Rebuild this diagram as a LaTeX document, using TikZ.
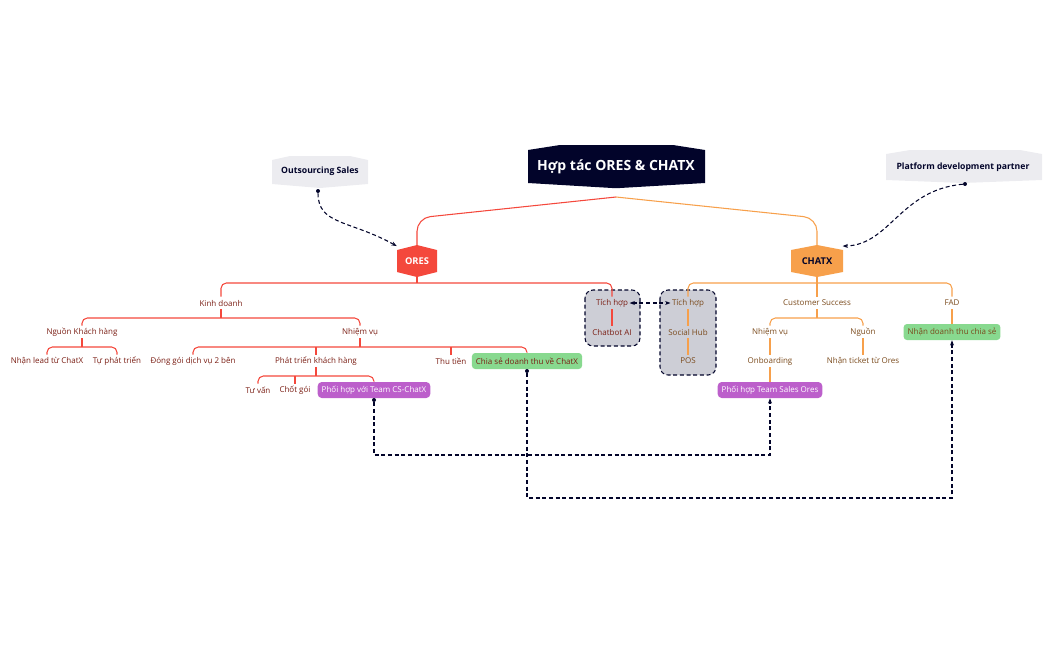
\documentclass[tikz,border=0pt]{standalone}
\usepackage{fontspec}
\setmainfont{Open Sans}
\usetikzlibrary{calc,arrows.meta}
\definecolor{navy}{HTML}{02042A}
\definecolor{oresred}{HTML}{F4483C}
\definecolor{chatorange}{HTML}{F7A04B}
\definecolor{txtred}{HTML}{7A1E14}
\definecolor{txtbrown}{HTML}{7A4A1C}
\definecolor{lgray}{HTML}{ECECF0}
\definecolor{boxgray}{HTML}{CDCED6}
\definecolor{lgreen}{HTML}{88D98F}
\definecolor{purp}{HTML}{BC5FCB}
\begin{document}
\begin{tikzpicture}[x=0.75pt,y=-0.75pt,
  t/.style={font=\fontsize{6}{7}\selectfont,inner sep=1pt,minimum height=9pt},
  tr/.style={t,text=txtred},
  tb/.style={t,text=txtbrown},
  rl/.style={draw=oresred,line width=0.8pt,rounded corners=4pt},
  ol/.style={draw=chatorange,line width=0.8pt,rounded corners=4pt},
  dl/.style={draw=navy,line width=0.8pt,dashed,dash pattern=on 3pt off 2pt},
  gbox/.style={t,fill=lgreen,rounded corners=2.5pt,text=txtred,minimum height=12pt,inner xsep=3pt},
  pbox/.style={t,fill=purp,rounded corners=3pt,text=white,minimum height=12pt,inner xsep=3pt},
  dot/.style={circle,fill=navy,inner sep=0pt,minimum size=3pt}]
\useasboundingbox (0,0) rectangle (1050,650);
% backgrounds
\fill[navy] (528,150) -- (560,145) -- (673,145) -- (705,150) -- (705,183) -- (620,188) -- (612,188) -- (528,183) -- cycle;
\fill[lgray] (272,160) -- (290,156) -- (350,156) -- (368,160) -- (368,184) -- (320,188) -- (272,184) -- cycle;
\fill[lgray] (886,154) -- (910,150) -- (1020,150) -- (1042,154) -- (1042,180) -- (963,183) -- (886,180) -- cycle;
\fill[oresred] (397,250) -- (417,245) -- (437,250) -- (437,272) -- (417,277) -- (397,272) -- cycle;
\fill[chatorange] (791,250) -- (817,245) -- (843,250) -- (843,272) -- (817,277) -- (791,272) -- cycle;
\filldraw[fill=boxgray,dl,rounded corners=6pt] (585,290) rectangle (640,346);
\filldraw[fill=boxgray,dl,rounded corners=6pt] (660,290) rectangle (716,375);
% nodes
\node[text=white,font=\fontsize{10.5}{12}\selectfont\bfseries] (root) at (616,167) {Hợp tác ORES \& CHATX};
\node[font=\fontsize{6.5}{8}\selectfont\bfseries,text=navy] (out) at (320,171) {Outsourcing Sales};
\node[font=\fontsize{6.5}{8}\selectfont\bfseries,text=navy] (plat) at (963,167) {Platform development partner};
\node[font=\fontsize{7}{8}\selectfont\bfseries,text=white,minimum height=22pt,minimum width=30pt] (ores) at (417,261) {ORES};
\node[font=\fontsize{7}{8}\selectfont\bfseries,text=navy,minimum height=22pt,minimum width=38pt] (chatx) at (817,261) {CHATX};
\coordinate (rootb) at (616,197);
% ORES subtree
\node[tr] (kd) at (221,303) {Kinh doanh};
\node[tr] (th1) at (612,303) {Tích hợp};
\node[tr] (cb) at (612,332) {Chatbot AI};
\node[tr] (nkh) at (82,332) {Nguồn Khách hàng};
\node[tr] (nv1) at (360,332) {Nhiệm vụ};
\node[tr] (nl) at (47,361) {Nhận lead từ ChatX};
\node[tr] (tpt) at (117,361) {Tự phát triển};
\node[tr] (dg) at (193,361) {Đóng gói dịch vụ 2 bên};
\node[tr] (ptkh) at (316,361) {Phát triển khách hàng};
\node[tr] (tt) at (451,361) {Thu tiền};
\node[gbox] (cs) at (527,361) {Chia sẻ doanh thu về ChatX};
\node[tr] (tv) at (258,390) {Tư vấn};
\node[tr] (cg) at (295,390) {Chốt gói};
\node[pbox] (ph1) at (374,390) {Phối hợp với Team CS-ChatX};
% CHATX subtree
\node[tb] (th2) at (688,303) {Tích hợp};
\node[tb] (sh) at (688,332) {Social Hub};
\node[tb] (pos) at (688,361) {POS};
\node[tb] (csu) at (817,303) {Customer Success};
\node[tb] (fad) at (952,303) {FAD};
\node[tb] (nv2) at (770,332) {Nhiệm vụ};
\node[tb] (ng) at (863,332) {Nguồn};
\node[tb] (onb) at (770,361) {Onboarding};
\node[tb] (ntk) at (863,361) {Nhận ticket từ Ores};
\node[pbox] (ph2) at (770,390) {Phối hợp Team Sales Ores};
\node[gbox,text=txtbrown] (nd) at (952,332) {Nhận doanh thu chia sẻ};
% root edges
\draw[rl,rounded corners=10pt] (rootb) -- (417,218) -- (ores.north);
\draw[ol,rounded corners=10pt] (rootb) -- (817,218) -- (chatx.north);
% ORES tree
\draw[rl] (kd.north) |- (ores.south |- 0,283) -| (th1.north);
\draw[rl] (ores.south) -- (ores.south |- 0,283);
\draw[rl] (th1.south) -- (cb.north);
\draw[rl] (kd.south) -- (kd.south |- 0,318);
\draw[rl] (nkh.north) |- (kd.south |- 0,318) -| (nv1.north);
\draw[rl] (nkh.south) -- (nkh.south |- 0,347);
\draw[rl] (nl.north) |- (nkh.south |- 0,347) -| (tpt.north);
\draw[rl] (nv1.south) -- (nv1.south |- 0,347);
\draw[rl] (dg.north) |- (nv1.south |- 0,347) -| (cs.north);
\draw[rl] (ptkh.north) -- (ptkh.north |- 0,347);
\draw[rl] (tt.north) -- (tt.north |- 0,347);
\draw[rl] (ptkh.south) -- (ptkh.south |- 0,376);
\draw[rl] (tv.north) |- (ptkh.south |- 0,376) -| (ph1.north);
\draw[rl] (cg.north) -- (cg.north |- 0,376);
% CHATX tree
\draw[ol] (th2.north) |- (chatx.south |- 0,283) -| (fad.north);
\draw[ol] (chatx.south) -- (csu.north);
\draw[ol] (th2.south) -- (sh.north);
\draw[ol] (sh.south) -- (pos.north);
\draw[ol] (csu.south) -- (csu.south |- 0,318);
\draw[ol] (nv2.north) |- (csu.south |- 0,318) -| (ng.north);
\draw[ol] (nv2.south) -- (onb.north);
\draw[ol] (onb.south) -- (ph2.north);
\draw[ol] (ng.south) -- (ntk.north);
\draw[ol] (fad.south) -- (nd.north);
% dashed relations
\node[dot] (d1) at (318,191) {};
\node[dot] (d2) at (965,184) {};
\node[dot] (d3) at (374,400) {};
\node[dot] (d4) at (527,371) {};
\draw[dl,-{Stealth[length=4pt]}] (d1) .. controls (318,225) and (350,220) .. (ores.north west);
\draw[dl,-{Stealth[length=4pt]}] (d2) .. controls (900,190) and (890,245) .. (chatx.north east);
\draw[dl,{Stealth[length=4pt]}-{Stealth[length=4pt]}] (th1.east) -- (th2.west);
\draw[dl,-{Stealth[length=4pt]}] (d3) -- (374,455) -| (ph2.south);
\draw[dl,-{Stealth[length=4pt]}] (d4) -- (527,498) -| (nd.south);
\end{tikzpicture}
\end{document}
